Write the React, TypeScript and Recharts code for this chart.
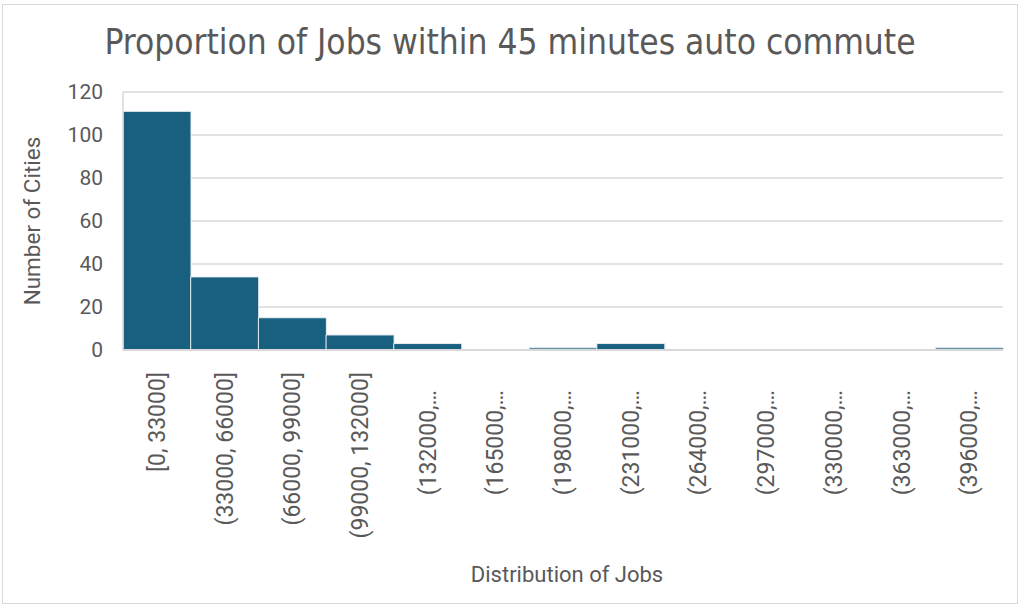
import React from 'react';
import { BarChart, Bar, XAxis, YAxis, CartesianGrid } from 'recharts';

const categories = [
  '[0, 33000]',
  '(33000, 66000]',
  '(66000, 99000]',
  '(99000, 132000]',
  '(132000,…',
  '(165000,…',
  '(198000,…',
  '(231000,…',
  '(264000,…',
  '(297000,…',
  '(330000,…',
  '(363000,…',
  '(396000,…',
];
const counts = [111, 34, 15, 7, 3, 0, 1, 3, 0, 0, 0, 0, 1];
const yTicks = [0, 20, 40, 60, 80, 100, 120];

const data = categories.map((bin, i) => ({ bin, count: counts[i] }));

const TEXT = '#595959';
const FONT = 'Roboto, "Liberation Sans", sans-serif';

const XTick = (props: any) => {
  const { x, y, payload } = props;
  const truncated = String(payload.value).endsWith('…');
  return (
    <g transform={`translate(${x},${y})`}>
      <text
        transform="rotate(-90)"
        x={truncated ? -40 : -22}
        y={0}
        dy="0.35em"
        textAnchor="end"
        fill={TEXT}
        fontSize={23}
        fontFamily={FONT}
      >
        {payload.value}
      </text>
    </g>
  );
};

export default function App() {
  return (
    <div style={{ position: 'absolute', left: 0, top: 0, width: 1024, height: 607, background: '#fff' }}>
      <div
        style={{
          position: 'absolute',
          left: 2,
          top: 4,
          width: 1016,
          height: 600,
          border: '1px solid #d9d9d9',
          boxSizing: 'border-box',
        }}
      />
      <div
        style={{
          position: 'absolute',
          left: 0,
          top: 20,
          width: 1020,
          textAlign: 'center',
          fontFamily: '"Liberation Sans Narrow", "DejaVu Sans Condensed", sans-serif',
          fontSize: 35,
          color: TEXT,
          lineHeight: '44px',
        }}
      >
        Proportion of Jobs within 45 minutes auto commute
      </div>
      <div
        style={{
          position: 'absolute',
          left: 32 - 100,
          top: 221 - 14,
          width: 200,
          height: 28,
          lineHeight: '28px',
          textAlign: 'center',
          transform: 'rotate(-90deg)',
          fontFamily: FONT,
          fontSize: 22.5,
          color: TEXT,
          whiteSpace: 'nowrap',
        }}
      >
        Number of Cities
      </div>
      <div
        style={{
          position: 'absolute',
          left: 567 - 150,
          top: 575 - 14,
          width: 300,
          height: 28,
          lineHeight: '28px',
          textAlign: 'center',
          fontFamily: FONT,
          fontSize: 22,
          color: TEXT,
          whiteSpace: 'nowrap',
        }}
      >
        Distribution of Jobs
      </div>
      <div style={{ position: 'absolute', left: 0, top: 0 }}>
        <BarChart
          width={1024}
          height={607}
          data={data}
          margin={{ top: 92, right: 21, left: 0, bottom: 0 }}
          barCategoryGap={0}
          barGap={0}
        >
          <CartesianGrid vertical={false} stroke="#d9d9d9" strokeWidth={1.5} />
          <XAxis
            dataKey="bin"
            height={257}
            interval={0}
            tickLine={false}
            tickSize={0}
            tickMargin={0}
            axisLine={{ stroke: '#d9d9d9', strokeWidth: 2 }}
            tick={<XTick />}
          />
          <YAxis
            width={123}
            domain={[0, 120]}
            ticks={yTicks}
            interval={0}
            tickLine={false}
            tickSize={0}
            tickMargin={20}
            axisLine={{ stroke: '#d9d9d9', strokeWidth: 1.5 }}
            tick={{ fill: TEXT, fontSize: 21, fontFamily: FONT }}
          />
          <Bar dataKey="count" fill="#185f80" stroke="#e8eff3" strokeWidth={1} isAnimationActive={false} />
        </BarChart>
      </div>
    </div>
  );
}
